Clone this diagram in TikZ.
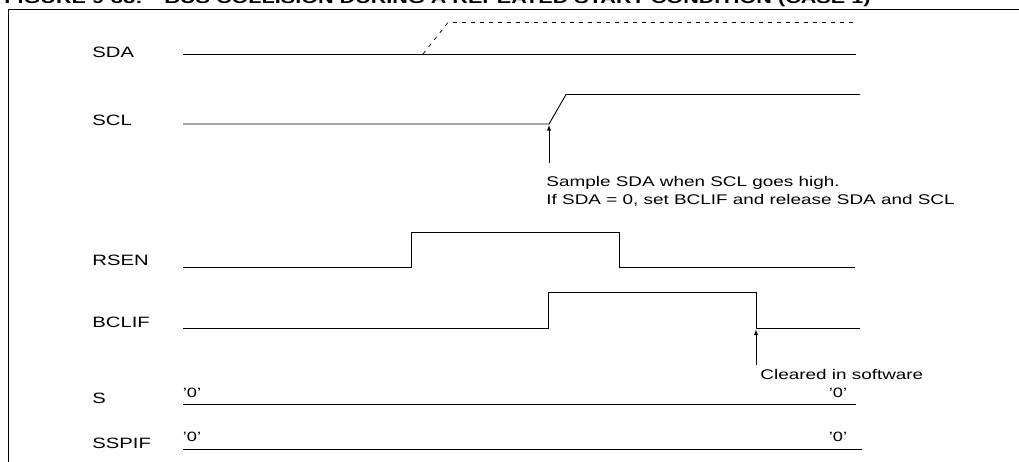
\documentclass[tikz,border=0pt]{standalone}
\usepackage{fontspec}
\setmainfont{Liberation Sans}[FakeStretch=1.35]
\begin{document}
\begin{tikzpicture}[x=1pt, y=-1pt, >=latex, line width=0.9pt,
	sig/.style={font=\fontsize{15}{17}\selectfont, anchor=west, inner sep=0pt},
	note/.style={font=\fontsize{14}{18}\selectfont, anchor=west, align=left, inner sep=0pt},
	zero/.style={font=\fontsize{13.5}{15}\selectfont, inner sep=0pt}]
	\useasboundingbox (0,0) rectangle (1019,461);
	\node[anchor=base west, font=\bfseries\fontsize{16}{18}\selectfont, inner sep=0pt] (title) at (4,3.5) {FIGURE 9-33:\hspace{22pt}BUS COLLISION DURING A REPEATED START CONDITION (CASE 1)};
	\draw (8,470) -- (8,9.5) -- (1030,9.5);
	% signal names
	\node[sig] (sda) at (92,52) {SDA};
	\node[sig] (scl) at (92,120) {SCL};
	\node[sig] (rsen) at (92,260) {RSEN};
	\node[sig] (bclif) at (92,322) {BCLIF};
	\node[sig] (s) at (92,398) {S};
	\node[sig] (sspif) at (92,443) {SSPIF};
	% waveforms
	\draw (183,54) -- (856,54);
	\draw[dashed, dash pattern=on 4pt off 5pt, line width=0.7pt] (423,54) -- (448,22.5) -- (857,22.5);
	\draw (183,124) -- (549,124) -- (566,94.5) -- (860,94.5);
	\draw (183,267) -- (411,267) -- (411,232) -- (619,232) -- (619,267) -- (855,267);
	\draw (183,328) -- (548,328) -- (548,292.5) -- (756,292.5) -- (756,328) -- (860,328);
	\draw (183,404.5) -- (856,404.5);
	\draw (183,449.5) -- (862,449.5);
	\node[zero] (s0a) at (192,393) {'0'};
	\node[zero] (s0b) at (838,393) {'0'};
	\node[zero] (sp0a) at (192,437) {'0'};
	\node[zero] (sp0b) at (838,437) {'0'};
	% notes
	\coordinate (sample) at (549,125);
	\coordinate (clear) at (756,329.5);
	\draw[->] (549,163) -- (sample);
	\draw[->] (756,365) -- (clear);
	\node[note] (samplenote) at (546,191) {Sample SDA when SCL goes high.\\If SDA = 0, set BCLIF and release SDA and SCL};
	\node[note] (clearnote) at (760,374) {Cleared in software};
\end{tikzpicture}
\end{document}
